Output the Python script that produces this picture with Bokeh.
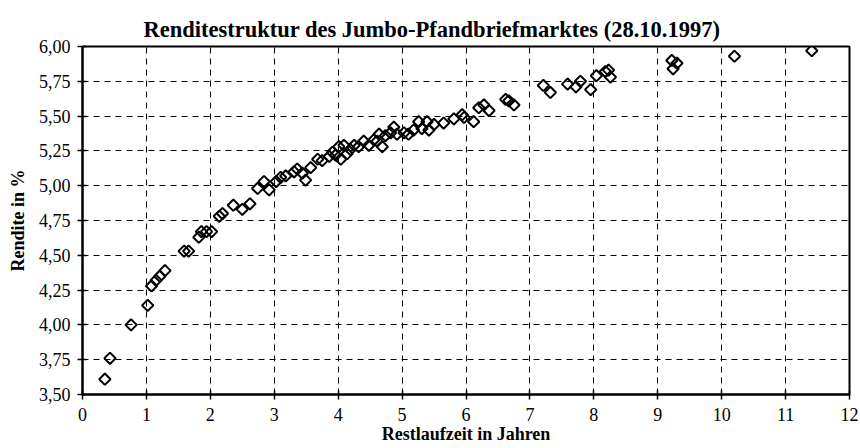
from bokeh.plotting import figure
from bokeh.models import FixedTicker, CustomJSTickFormatter, Range1d, Title
from bokeh.embed import file_html
from bokeh.resources import INLINE
import numpy as np

# Remaining maturity (years) and yield (%) of Jumbo Pfandbriefe, 28.10.1997
maturity = [0.35, 0.43, 0.76, 1.02, 1.08, 1.15, 1.21, 1.29, 1.59, 1.66,
            1.82, 1.86, 1.94, 2.02, 2.14, 2.19, 2.36, 2.50, 2.62, 2.74,
            2.84, 2.92, 3.03, 3.10, 3.18, 3.31, 3.36, 3.44, 3.49, 3.57,
            3.68, 3.75, 3.86, 3.91, 3.96, 4.01, 4.04, 4.09, 4.14, 4.19,
            4.25, 4.32, 4.40, 4.48, 4.56, 4.61, 4.64, 4.69, 4.74, 4.82,
            4.87, 4.92, 5.03, 5.10, 5.18, 5.26, 5.31, 5.39, 5.42, 5.50,
            5.65, 5.81, 5.94, 5.97, 6.12, 6.20, 6.28, 6.36, 6.62, 6.67,
            6.75, 7.21, 7.32, 7.59, 7.72, 7.79, 7.95, 8.04, 8.18, 8.23,
            8.26, 9.22, 9.30, 9.24, 10.20, 11.41]
yield_pct = [3.61, 3.76, 4.00, 4.14, 4.28, 4.32, 4.35, 4.39, 4.53, 4.53,
             4.63, 4.67, 4.67, 4.67, 4.78, 4.80, 4.86, 4.83, 4.87, 4.98,
             5.03, 4.97, 5.03, 5.06, 5.07, 5.10, 5.12, 5.09, 5.04, 5.13,
             5.19, 5.18, 5.21, 5.24, 5.22, 5.28, 5.19, 5.29, 5.23, 5.26,
             5.29, 5.28, 5.32, 5.29, 5.33, 5.32, 5.37, 5.28, 5.36, 5.38,
             5.42, 5.37, 5.38, 5.37, 5.40, 5.46, 5.41, 5.46, 5.40, 5.44,
             5.45, 5.48, 5.51, 5.49, 5.46, 5.56, 5.58, 5.54, 5.62, 5.61,
             5.58, 5.72, 5.67, 5.73, 5.71, 5.75, 5.69, 5.79, 5.82, 5.83,
             5.78, 5.90, 5.88, 5.84, 5.93, 5.97]

x_ticks = list(range(0, 13))
y_ticks = [3.50, 3.75, 4.00, 4.25, 4.50, 4.75, 5.00, 5.25, 5.50, 5.75, 6.00]
y_tick_labels = ["3,50", "3,75", "4,00", "4,25", "4,50", "4,75",
                 "5,00", "5,25", "5,50", "5,75", "6,00"]

title_text = "Renditestruktur des Jumbo-Pfandbriefmarktes (28.10.1997)"
x_label = "Restlaufzeit in Jahren"
y_label = "Rendite in %"

SERIF = "Liberation Serif"

p = figure(width=858, height=448, output_backend="svg", toolbar_location=None,
           x_range=Range1d(0, 12), y_range=Range1d(3.5, 6.0),
           min_border_left=82, min_border_right=9, min_border_top=46,
           min_border_bottom=54)

t = Title(text=title_text, align="left", offset=61,
          text_font=SERIF, text_font_size="22.5px", text_font_style="bold",
          text_color="black", standoff=9)
p.add_layout(t, "above")

p.scatter(maturity, yield_pct, marker="square", angle=np.pi / 4, size=8,
          fill_color=None, line_color="black", line_width=2)

for ax in (p.xaxis[0], p.yaxis[0]):
    ax.axis_line_color = "black"
    ax.axis_line_width = 2
    ax.major_tick_line_color = "black"
    ax.major_tick_line_width = 1.5
    ax.major_tick_in = 4
    ax.major_tick_out = 5
    ax.minor_tick_line_color = None
    ax.major_label_text_font = SERIF
    ax.major_label_text_font_size = "18px"
    ax.major_label_text_color = "black"
    ax.axis_label_text_font = SERIF
    ax.axis_label_text_font_size = "18px"
    ax.axis_label_text_font_style = "bold"
    ax.axis_label_text_color = "black"

p.xaxis.ticker = FixedTicker(ticks=x_ticks)
p.yaxis.ticker = FixedTicker(ticks=y_ticks)
p.yaxis.formatter = CustomJSTickFormatter(
    args=dict(vals=y_ticks, labels=y_tick_labels),
    code="""
    for (let i = 0; i < vals.length; i++) {
        if (Math.abs(vals[i] - tick) < 1e-6) { return labels[i]; }
    }
    return tick.toFixed(2).replace('.', ',');
    """)
p.xaxis.axis_label = x_label
p.yaxis.axis_label = y_label
p.xaxis.major_label_standoff = 8
p.yaxis.major_label_standoff = 7
p.xaxis.axis_label_standoff = 0
p.yaxis.axis_label_standoff = 8

p.xgrid.ticker = FixedTicker(ticks=x_ticks)
p.ygrid.ticker = FixedTicker(ticks=y_ticks)
for g in (p.xgrid[0], p.ygrid[0]):
    g.grid_line_color = "black"
    g.grid_line_width = 1
    g.grid_line_dash = "6 5"

p.outline_line_color = "black"
p.outline_line_width = 2
p.background_fill_color = "white"
p.border_fill_color = "white"

open("out.html", "w").write(file_html(p, INLINE))
